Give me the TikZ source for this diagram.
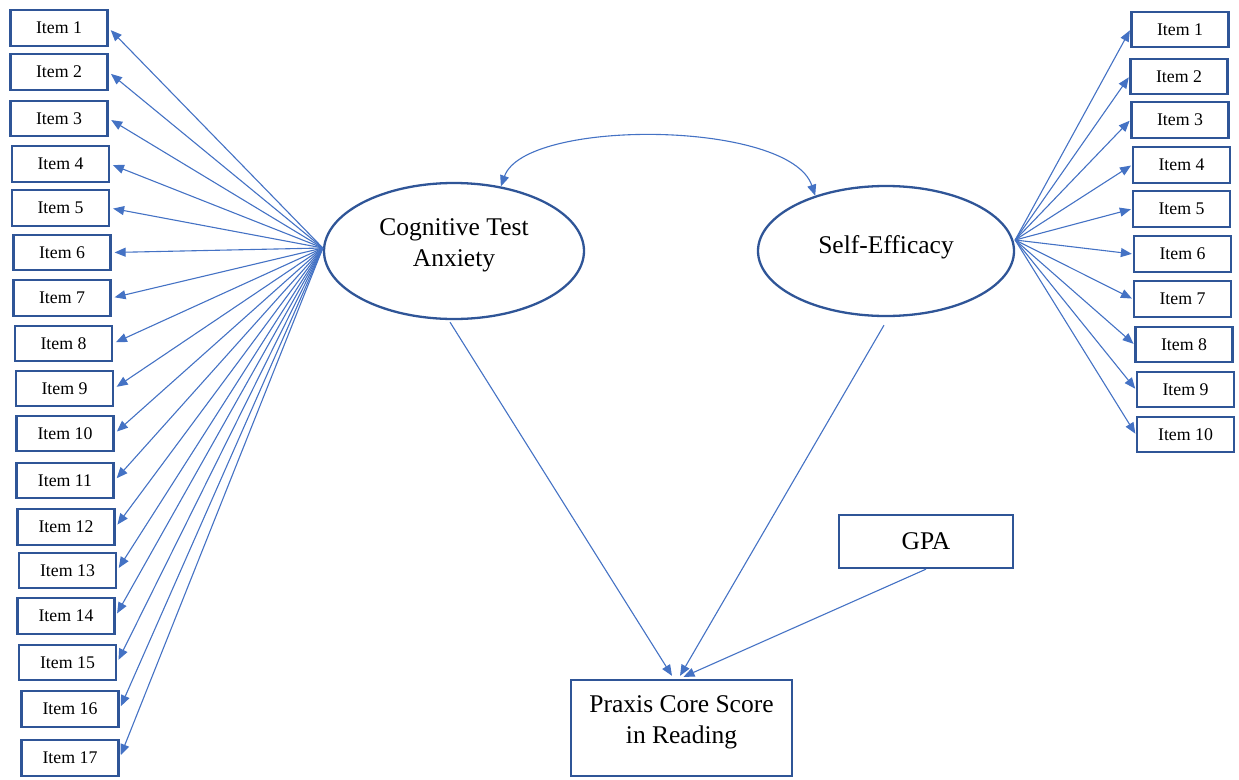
\documentclass[tikz,border=0pt]{standalone}
\usepackage{fontspec}
\setmainfont{Liberation Serif}
\usetikzlibrary{arrows.meta,shapes.geometric,calc}
\definecolor{boxblue}{HTML}{2F5597}
\definecolor{arrblue}{HTML}{4472C4}
\begin{document}
\begin{tikzpicture}[x=1pt,y=-1pt,
  itembox/.style={draw=boxblue,line width=2.3pt,minimum width=97pt,minimum height=35.5pt,inner sep=0pt,font=\fontsize{17.8}{20}\selectfont},
  latent/.style={ellipse,draw=boxblue,line width=2.3pt,inner sep=0pt},
  bigbox/.style={draw=boxblue,line width=2.3pt,inner sep=0pt},
  tip/.style={Triangle[length=11pt,width=9pt]},
  conn/.style={draw=arrblue,line width=1.1pt,-{Triangle[length=11pt,width=9pt]}},
  bigtext/.style={font=\fontsize{25.5}{31}\selectfont,align=center,inner sep=0pt}]
\useasboundingbox (0,0) rectangle (1239,779);
% latent variables
\node[latent,minimum width=260pt,minimum height=136pt] (cta) at (454,251) {};
\node[bigtext] (ctat) at (454,245) {Cognitive Test\\Anxiety};
\node[latent,minimum width=256pt,minimum height=130pt] (se) at (886,251) {};
\node[bigtext] (set) at (886,247) {Self-Efficacy};
% outcome and GPA
\node[bigbox,minimum width=221pt,minimum height=96pt] (px) at (681.5,728) {};
\node[bigtext] (pxt) at (681.5,722) {Praxis Core Score\\in Reading};
\node[bigbox,minimum width=174pt,minimum height=53pt,font=\fontsize{25.5}{31}\selectfont] (gpa) at (926,541.5) {GPA};
% left items
\foreach \i/\x/\y in {1/59/28,2/59/72,3/59/118.5,4/60.5/164,5/60.5/208,6/62/252.5,7/62/298,8/63.5/343.5,9/64.5/388.5,10/65/433.5,11/65/480.5,12/66/527,13/67.5/570.5,14/66/616,15/67.5/662.5,16/70/709,17/70/758}
  \node[itembox] (L\i) at (\x,\y) {Item \i};
% right items
\foreach \i/\x/\y in {1/1180/29.5,2/1179/76.5,3/1180/120,4/1181.5/165,5/1181.5/209,6/1182.5/254,7/1182.5/299,8/1184/344.5,9/1185.5/389.5,10/1185.5/434.5}
  \node[itembox] (R\i) at (\x,\y) {Item \i};
% loadings
\coordinate (ctao) at ($(cta.west)+(0,-3)$);
\coordinate (seo) at ($(se.east)+(0,-11)$);
\foreach \i in {1,...,17}
  \draw[conn,shorten >=3pt] (ctao) -- (L\i.east);
\foreach \i in {1,...,10}
  \draw[conn,shorten >=1pt] (seo) -- (R\i.west);
% covariance
\draw[arrblue,line width=1.1pt,{Triangle[length=11pt,width=9pt]}-{Triangle[length=11pt,width=9pt]}]
  (cta.54.7) .. controls (525,118) and (790,120) .. (se.142.9);
% regressions
\draw[conn] ($(cta.south)+(-4,2)$) -- ($(px.north)+(-9.5,-3)$);
\draw[conn] ($(se.south)+(-2,8)$) -- ($(px.north)+(-1.5,-3)$);
\draw[conn] (gpa.south) -- ($(px.north)+(2,-2)$);
\end{tikzpicture}
\end{document}
